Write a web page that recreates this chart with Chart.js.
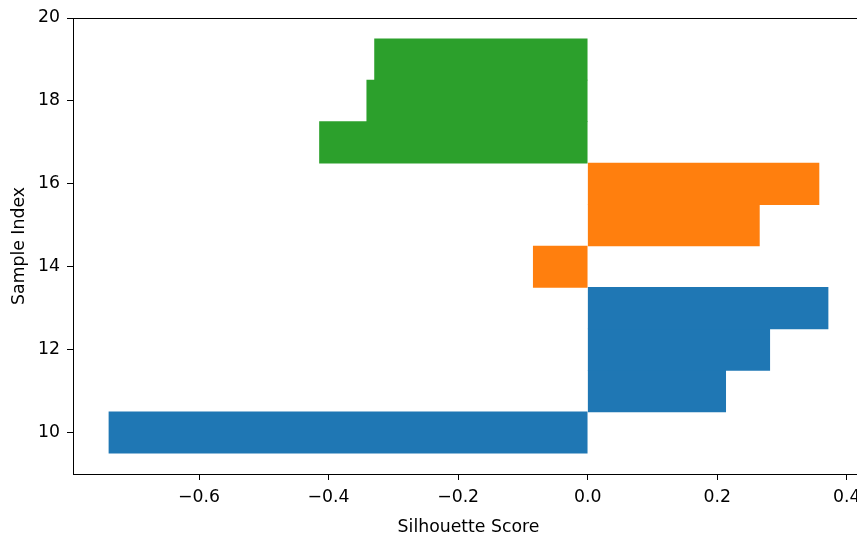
<!DOCTYPE html>
<html>
<head>
<meta charset="utf-8">
<script src="https://cdn.jsdelivr.net/npm/chart.js@4"></script>
<style>
    html, body { margin: 0; padding: 0; background: #fff; overflow: hidden; }
    #wrap { width: 880px; height: 535px; position: relative; }
</style>
</head>
<body>
<div id="wrap"><canvas id="silhouette"></canvas></div>
<script>
const sampleIndex = [10, 11, 12, 13, 14, 15, 16, 17, 18, 19];
const silhouetteScores = [-0.739, 0.213, 0.281, 0.371, -0.084, 0.265, 0.357, -0.414, -0.341, -0.329];
const clusterOf = [0, 0, 0, 0, 1, 1, 1, 2, 2, 2];
const clusterColors = ['#1f77b4', '#ff7f0e', '#2ca02c'];

const xTicks = [-0.6, -0.4, -0.2, 0.0, 0.2, 0.4];
const yTicks = [10, 12, 14, 16, 18, 20];

const datasets = clusterColors.map((color, c) => ({
    label: 'Cluster ' + c,
    data: sampleIndex
        .map((idx, i) => ({ x: silhouetteScores[i], y: idx, c: clusterOf[i] }))
        .filter(d => d.c === c),
    backgroundColor: color,
    borderWidth: 0,
    barPercentage: 1,
    categoryPercentage: 1,
    grouped: false
}));

// matplotlib style box around the axes
const frame = {
    id: 'frame',
    afterDraw(chart) {
        const { ctx, chartArea: a } = chart;
        ctx.save();
        ctx.strokeStyle = '#000';
        ctx.lineWidth = 1;
        ctx.strokeRect(Math.round(a.left) + 0.5, Math.round(a.top) + 0.5,
            Math.round(a.right - a.left), Math.round(a.bottom - a.top));
        ctx.restore();
    }
};

const font = { family: 'DejaVu Sans', size: 17.3 };

new Chart(document.getElementById('silhouette').getContext('2d'), {
    type: 'bar',
    data: { datasets },
    plugins: [frame],
    options: {
        indexAxis: 'y',
        responsive: true,
        maintainAspectRatio: false,
        animation: false,
        layout: { padding: { left: 0, top: 18, right: 16, bottom: 0 } },
        plugins: {
            legend: { display: false },
            tooltip: { enabled: false }
        },
        scales: {
            x: {
                type: 'linear',
                min: -0.7945,
                max: 0.4265,
                afterBuildTicks: axis => { axis.ticks = xTicks.map(v => ({ value: v })); },
                afterFit: axis => { axis.height = 61; },
                border: { display: false },
                grid: {
                    drawOnChartArea: false,
                    drawTicks: true,
                    tickLength: 6,
                    tickColor: '#000',
                    tickWidth: 1
                },
                ticks: {
                    color: '#000',
                    font,
                    padding: 7,
                    maxRotation: 0,
                    callback: v => v.toFixed(1).replace('-', '\u2212')
                },
                title: {
                    display: true,
                    text: 'Silhouette Score',
                    color: '#000',
                    font,
                    padding: { top: 0, bottom: -2.5 }
                }
            },
            y: {
                type: 'linear',
                min: 9,
                max: 20,
                offset: false,
                afterBuildTicks: axis => { axis.ticks = yTicks.map(v => ({ value: v })); },
                afterFit: axis => { axis.width = 73; },
                border: { display: false },
                grid: {
                    offset: false,
                    drawOnChartArea: false,
                    drawTicks: true,
                    tickLength: 6,
                    tickColor: '#000',
                    tickWidth: 1
                },
                ticks: {
                    color: '#000',
                    font,
                    padding: 7,
                    callback: v => String(v)
                },
                title: {
                    display: true,
                    text: 'Sample Index',
                    color: '#000',
                    font,
                    padding: { top: 9.5, bottom: 0 }
                }
            }
        }
    }
});
</script>
</body>
</html>
